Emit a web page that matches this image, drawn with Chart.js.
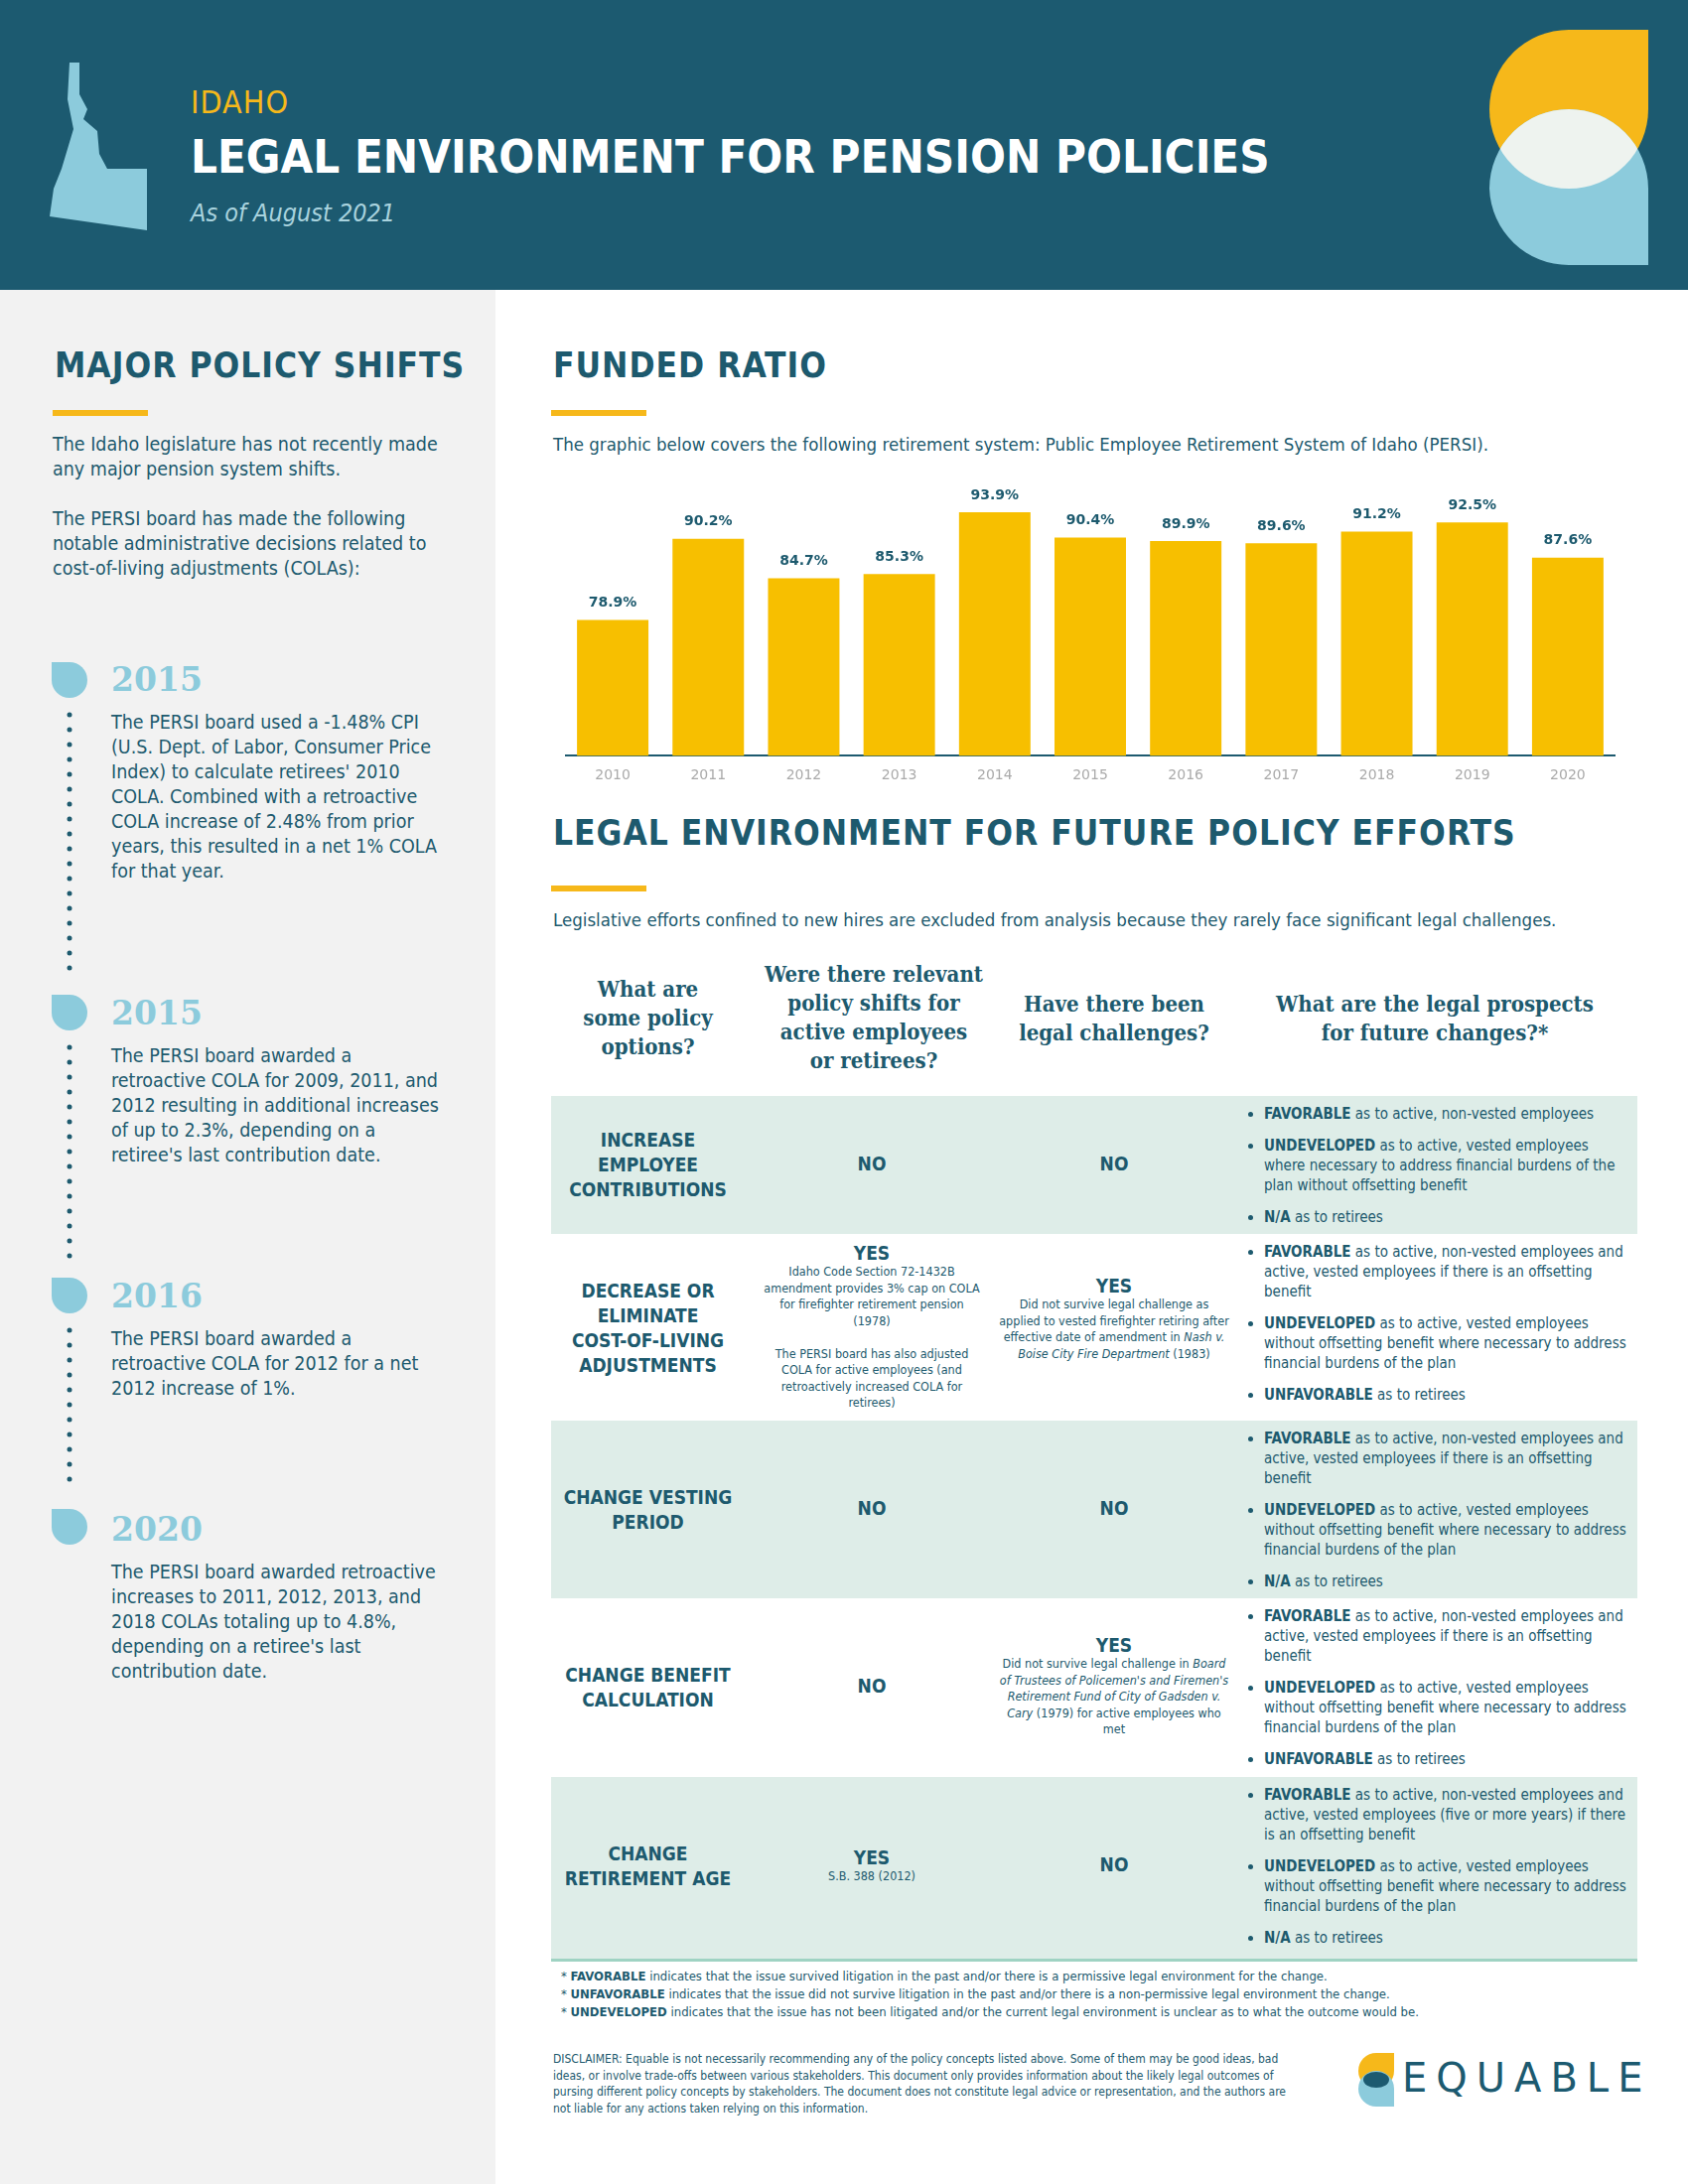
<!DOCTYPE html>
<html><head><meta charset="utf-8">
<script src="https://cdn.jsdelivr.net/npm/chart.js@4"></script>
<style>
body{margin:0;width:1700px;height:2200px;position:relative;background:#fff;font-family:"DejaVu Sans",sans-serif;font-stretch:condensed;color:#1d5a6e;overflow:hidden}
.a{position:absolute}
.h2{font-weight:bold;font-size:35px;color:#1d5a6e;letter-spacing:1px}
.ul{position:absolute;height:6px;width:96px;background:#f6b81a}
.p{font-size:19.5px;line-height:25px;color:#1d5a6e}
.yr{font-family:"DejaVu Serif";font-weight:bold;font-size:33px;color:#8ccbdc;font-stretch:normal}
.hd{font-family:"DejaVu Serif";font-weight:bold;font-size:22px;line-height:29px;text-align:center;color:#1d5a6e;font-stretch:condensed}
.row{position:absolute;left:555px;width:1094px}
.c1{position:absolute;left:0;width:195px;text-align:center;font-weight:bold;font-size:19px;line-height:25px}
.c2{position:absolute;left:210px;width:226px;text-align:center}
.c3{position:absolute;left:450px;width:234px;text-align:center}
.big{font-weight:bold;font-size:19px;line-height:22px}
.sm{font-size:12.5px;line-height:16.5px}
.c4{position:absolute;left:690px;width:400px;font-size:15px;line-height:20px}
.c4 ul{margin:0;padding-left:28px}
.c4 li{margin-bottom:12px}
</style></head><body>
<div class="a" style="left:0;top:0;width:1700px;height:292px;background:#1c5a70"></div>
<svg class="a" style="left:48px;top:60px" width="110" height="175"><polygon fill="#8ccbdc" points="22,3 32,3 32,35 40,50 36,60 50,72 52,95 60,110 100,110 100,172 2,158 6,130 14,110 20,90 26,70 20,40" /></svg>
<div class="a" style="left:192px;top:84px;font-size:32px;color:#f6b81a;letter-spacing:1px">IDAHO</div>
<div class="a" style="left:192px;top:130px;font-size:47px;font-weight:bold;color:#fff">LEGAL ENVIRONMENT FOR PENSION POLICIES</div>
<div class="a" style="left:192px;top:200px;font-size:25px;font-style:italic;color:#a9d3de">As of August 2021</div>
<svg class="a" style="left:1490px;top:25px" width="180" height="250">
<defs><clipPath id="cb"><path d="M10,165 A80,80 0 0 1 170,165 L170,242 L90,242 A80,80 0 0 1 10,165Z"/></clipPath></defs>
<path d="M10,85 A80,80 0 0 1 90,5 L170,5 L170,85 A80,80 0 0 1 10,85Z" fill="#f6b81a"/>
<path d="M10,165 A80,80 0 0 1 170,165 L170,242 L90,242 A80,80 0 0 1 10,165Z" fill="#8ccbdc"/>
<g clip-path="url(#cb)"><path d="M10,85 A80,80 0 0 1 90,5 L170,5 L170,85 A80,80 0 0 1 10,85Z" fill="#eef3ef"/></g>
</svg>

<div class="a" style="left:0;top:292px;width:499px;height:1908px;background:#f2f2f2"></div>
<div class="a h2" style="left:55px;top:348px">MAJOR POLICY SHIFTS</div>
<div class="ul" style="left:53px;top:413px"></div>
<div class="a p" style="left:53px;top:435px;width:405px">The Idaho legislature has not recently made any major pension system shifts.<br><br>The PERSI board has made the following notable administrative decisions related to cost-of-living adjustments (COLAs):</div>

<svg class="a" style="left:50px;top:665px" width="50" height="900">
<g fill="#1d5a6e">
<circle cx="20" cy="55" r="2.5"/><circle cx="20" cy="70" r="2.5"/><circle cx="20" cy="85" r="2.5"/><circle cx="20" cy="100" r="2.5"/><circle cx="20" cy="115" r="2.5"/><circle cx="20" cy="130" r="2.5"/><circle cx="20" cy="145" r="2.5"/><circle cx="20" cy="160" r="2.5"/><circle cx="20" cy="175" r="2.5"/><circle cx="20" cy="190" r="2.5"/><circle cx="20" cy="205" r="2.5"/><circle cx="20" cy="220" r="2.5"/><circle cx="20" cy="235" r="2.5"/><circle cx="20" cy="250" r="2.5"/><circle cx="20" cy="265" r="2.5"/><circle cx="20" cy="280" r="2.5"/><circle cx="20" cy="295" r="2.5"/><circle cx="20" cy="310" r="2.5"/>
<circle cx="20" cy="390" r="2.5"/><circle cx="20" cy="405" r="2.5"/><circle cx="20" cy="420" r="2.5"/><circle cx="20" cy="435" r="2.5"/><circle cx="20" cy="450" r="2.5"/><circle cx="20" cy="465" r="2.5"/><circle cx="20" cy="480" r="2.5"/><circle cx="20" cy="495" r="2.5"/><circle cx="20" cy="510" r="2.5"/><circle cx="20" cy="525" r="2.5"/><circle cx="20" cy="540" r="2.5"/><circle cx="20" cy="555" r="2.5"/><circle cx="20" cy="570" r="2.5"/><circle cx="20" cy="585" r="2.5"/><circle cx="20" cy="600" r="2.5"/>
<circle cx="20" cy="675" r="2.5"/><circle cx="20" cy="690" r="2.5"/><circle cx="20" cy="705" r="2.5"/><circle cx="20" cy="720" r="2.5"/><circle cx="20" cy="735" r="2.5"/><circle cx="20" cy="750" r="2.5"/><circle cx="20" cy="765" r="2.5"/><circle cx="20" cy="780" r="2.5"/><circle cx="20" cy="795" r="2.5"/><circle cx="20" cy="810" r="2.5"/><circle cx="20" cy="825" r="2.5"/>
</g>
<g fill="#8ccbdc">
<path d="M20,2 A18,18 0 1 1 2,20 L2,2Z"/>
<path d="M20,337 A18,18 0 1 1 2,355 L2,337Z"/>
<path d="M20,622 A18,18 0 1 1 2,640 L2,622Z"/>
<path d="M20,855 A18,18 0 1 1 2,873 L2,855Z"/>
</g></svg>
<div class="a yr" style="left:112px;top:665px">2015</div>
<div class="a p" style="left:112px;top:715px;width:340px">The PERSI board used a -1.48% CPI (U.S. Dept. of Labor, Consumer Price Index) to calculate retirees' 2010 COLA. Combined with a retroactive COLA increase of 2.48% from prior years, this resulted in a net 1% COLA for that year.</div>
<div class="a yr" style="left:112px;top:1001px">2015</div>
<div class="a p" style="left:112px;top:1051px;width:330px">The PERSI board awarded a retroactive COLA for 2009, 2011, and 2012 resulting in additional increases of up to 2.3%, depending on a retiree's last contribution date.</div>
<div class="a yr" style="left:112px;top:1286px">2016</div>
<div class="a p" style="left:112px;top:1336px;width:340px">The PERSI board awarded a retroactive COLA for 2012 for a net 2012 increase of 1%.</div>
<div class="a yr" style="left:112px;top:1521px">2020</div>
<div class="a p" style="left:112px;top:1571px;width:340px">The PERSI board awarded retroactive increases to 2011, 2012, 2013, and 2018 COLAs totaling up to 4.8%, depending on a retiree's last contribution date.</div>

<div class="a h2" style="left:557px;top:348px">FUNDED RATIO</div>
<div class="ul" style="left:555px;top:413px"></div>
<div class="a p" style="left:557px;top:435px;font-size:18.5px">The graphic below covers the following retirement system: Public Employee Retirement System of Idaho (PERSI).</div>
<div class="a" style="left:569px;top:472px;width:1058px;height:330px"><canvas id="c"></canvas></div>

<div class="a h2" style="left:557px;top:819px">LEGAL ENVIRONMENT FOR FUTURE POLICY EFFORTS</div>
<div class="ul" style="left:555px;top:892px"></div>
<div class="a p" style="left:557px;top:914px;font-size:18.5px">Legislative efforts confined to new hires are excluded from analysis because they rarely face significant legal challenges.</div>

<div class="a hd" style="left:555px;top:982px;width:195px">What are<br>some policy<br>options?</div>
<div class="a hd" style="left:755px;top:967px;width:250px">Were there relevant<br>policy shifts for<br>active employees<br>or retirees?</div>
<div class="a hd" style="left:1005px;top:997px;width:234px">Have there been<br>legal challenges?</div>
<div class="a hd" style="left:1245px;top:997px;width:400px">What are the legal prospects<br>for future changes?*</div>

<div class="row" style="top:1104px;height:139px;background:#deede8">
 <div class="c1" style="top:32px">INCREASE<br>EMPLOYEE<br>CONTRIBUTIONS</div>
 <div class="c2 big" style="top:57px">NO</div>
 <div class="c3 big" style="top:57px">NO</div>
 <div class="c4" style="top:8px"><ul><li><b>FAVORABLE</b> as to active, non-vested employees</li><li><b>UNDEVELOPED</b> as to active, vested employees where necessary to address financial burdens of the plan without offsetting benefit</li><li><b>N/A</b> as to retirees</li></ul></div>
</div>
<div class="row" style="top:1243px;height:188px">
 <div class="c1" style="top:45px">DECREASE OR<br>ELIMINATE<br>COST-OF-LIVING<br>ADJUSTMENTS</div>
 <div class="c2" style="top:8px"><div class="big">YES</div><div class="sm">Idaho Code Section 72-1432B amendment provides 3% cap on COLA for firefighter retirement pension (1978)<br><br>The PERSI board has also adjusted COLA for active employees (and retroactively increased COLA for retirees)</div></div>
 <div class="c3" style="top:41px"><div class="big">YES</div><div class="sm">Did not survive legal challenge as applied to vested firefighter retiring after effective date of amendment in <i>Nash v. Boise City Fire Department</i> (1983)</div></div>
 <div class="c4" style="top:8px"><ul><li><b>FAVORABLE</b> as to active, non-vested employees and active, vested employees if there is an offsetting benefit</li><li><b>UNDEVELOPED</b> as to active, vested employees without offsetting benefit where necessary to address financial burdens of the plan</li><li><b>UNFAVORABLE</b> as to retirees</li></ul></div>
</div>
<div class="row" style="top:1431px;height:179px;background:#deede8">
 <div class="c1" style="top:65px">CHANGE VESTING<br>PERIOD</div>
 <div class="c2 big" style="top:77px">NO</div>
 <div class="c3 big" style="top:77px">NO</div>
 <div class="c4" style="top:8px"><ul><li><b>FAVORABLE</b> as to active, non-vested employees and active, vested employees if there is an offsetting benefit</li><li><b>UNDEVELOPED</b> as to active, vested employees without offsetting benefit where necessary to address financial burdens of the plan</li><li><b>N/A</b> as to retirees</li></ul></div>
</div>
<div class="row" style="top:1610px;height:180px">
 <div class="c1" style="top:65px">CHANGE BENEFIT<br>CALCULATION</div>
 <div class="c2 big" style="top:77px">NO</div>
 <div class="c3" style="top:36px"><div class="big">YES</div><div class="sm">Did not survive legal challenge in <i>Board of Trustees of Policemen's and Firemen's Retirement Fund of City of Gadsden v. Cary</i> (1979) for active employees who met</div></div>
 <div class="c4" style="top:8px"><ul><li><b>FAVORABLE</b> as to active, non-vested employees and active, vested employees if there is an offsetting benefit</li><li><b>UNDEVELOPED</b> as to active, vested employees without offsetting benefit where necessary to address financial burdens of the plan</li><li><b>UNFAVORABLE</b> as to retirees</li></ul></div>
</div>
<div class="row" style="top:1790px;height:183px;background:#deede8;border-bottom:3px solid #9fd3c3">
 <div class="c1" style="top:65px">CHANGE<br>RETIREMENT AGE</div>
 <div class="c2" style="top:70px"><div class="big">YES</div><div class="sm">S.B. 388 (2012)</div></div>
 <div class="c3 big" style="top:77px">NO</div>
 <div class="c4" style="top:8px"><ul><li><b>FAVORABLE</b> as to active, non-vested employees and active, vested employees (five or more years) if there is an offsetting benefit</li><li><b>UNDEVELOPED</b> as to active, vested employees without offsetting benefit where necessary to address financial burdens of the plan</li><li><b>N/A</b> as to retirees</li></ul></div>
</div>

<div class="a" style="left:565px;top:1982px;font-size:13px;line-height:18px">* <b>FAVORABLE</b> indicates that the issue survived litigation in the past and/or there is a permissive legal environment for the change.<br>* <b>UNFAVORABLE</b> indicates that the issue did not survive litigation in the past and/or there is a non-permissive legal environment the change.<br>* <b>UNDEVELOPED</b> indicates that the issue has not been litigated and/or the current legal environment is unclear as to what the outcome would be.</div>
<div class="a" style="left:557px;top:2066px;width:740px;font-size:12px;line-height:16.5px">DISCLAIMER: Equable is not necessarily recommending any of the policy concepts listed above. Some of them may be good ideas, bad ideas, or involve trade-offs between various stakeholders. This document only provides information about the likely legal outcomes of pursing different policy concepts by stakeholders. The document does not constitute legal advice or representation, and the authors are not liable for any actions taken relying on this information.</div>
<svg class="a" style="left:1366px;top:2066px" width="44" height="60">
<path d="M2,20 A18,18 0 0 1 20,2 L38,2 L38,20 A18,18 0 0 1 2,20Z" fill="#f6b81a"/>
<path d="M2,38 A18,18 0 0 1 38,38 L38,56 L20,56 A18,18 0 0 1 2,38Z" fill="#8ccbdc"/>
<ellipse cx="20" cy="29" rx="13" ry="8" fill="#1c5a70"/></svg>
<div class="a" style="left:1412px;top:2070px;font-size:40px;letter-spacing:9px;color:#1c5a70;font-stretch:normal">EQUABLE</div>

<script>
const years=["2010","2011","2012","2013","2014","2015","2016","2017","2018","2019","2020"];
const fundedRatio=[78.9,90.2,84.7,85.3,93.9,90.4,89.9,89.6,91.2,92.5,87.6];
const labelPlugin={id:"lbl",afterDatasetsDraw(ch){const c=ch.ctx;const m=ch.getDatasetMeta(0);c.save();c.font="bold 14px 'DejaVu Sans'";c.fillStyle="#1d5a6e";c.textAlign="center";c.textBaseline="bottom";m.data.forEach((b,i)=>c.fillText(fundedRatio[i].toFixed(1)+"%",b.x,b.y-10));c.restore();}};
new Chart(document.getElementById("c"),{type:"bar",data:{labels:years,datasets:[{data:fundedRatio,backgroundColor:"#f7bf00",categoryPercentage:0.86,barPercentage:0.87}]},
options:{responsive:true,maintainAspectRatio:false,animation:false,layout:{padding:{left:0,right:0,top:0}},plugins:{legend:{display:false},tooltip:{enabled:false}},
scales:{x:{grid:{display:false,drawTicks:false},border:{color:"#1d5a6e",width:2},ticks:{color:"#aaaaaa",font:{size:14,family:"DejaVu Sans"},padding:12}},
y:{display:false,min:60,max:100}}},plugins:[labelPlugin]});
</script>
</body></html>
